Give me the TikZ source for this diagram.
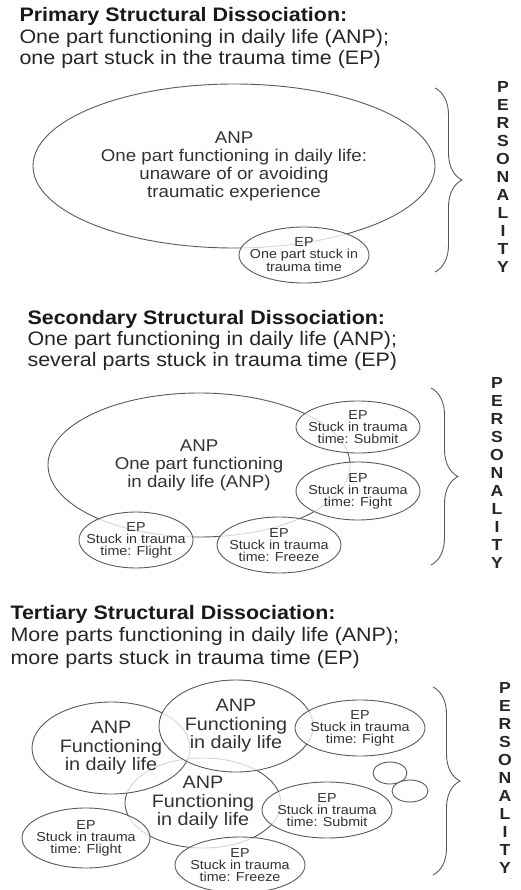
\documentclass[tikz,border=0pt]{standalone}
\usepackage{fontspec}
\setmainfont{Liberation Sans}[FakeStretch=1.1]
\usetikzlibrary{positioning,
        shapes.geometric,
        decorations.pathreplacing}
\definecolor{linegray}{HTML}{5A5A5A}
\definecolor{textgray}{HTML}{333333}

\begin{document}
\begin{tikzpicture}[x=1pt,y=-1pt,
    part/.style={ellipse,draw=linegray,line width=0.9pt,fill=white,fill opacity=0.75,
        text opacity=1,text=textgray,inner sep=-40pt,align=center},
    big/.style={font=\fontsize{17}{18}\selectfont},
    mid/.style={font=\fontsize{18}{18.5}\selectfont},
    small/.style={font=\fontsize{13}{12}\selectfont},
    head/.style={anchor=base west,text=black!85,font=\fontsize{19.5}{21.7}\selectfont},
    headb/.style={anchor=base west,text=black!90,font=\fontsize{19.5}{21.7}\selectfont\bfseries},
    persbrace/.style={draw=linegray,line width=0.9pt,decorate,decoration={brace,amplitude=27pt}},
    pers/.style={align=center,text=black!85,font=\fontsize{16}{18}\selectfont\bfseries}]
            \useasboundingbox (0,0) rectangle (520,890);

            % primary
            \node [headb] (h1a) at (16,22) {Primary Structural Dissociation:};
            \node [head] (h1b) at (16,44) {One part functioning in daily life (ANP);};
            \node [head] (h1c) at (16,65) {one part stuck in the trauma time (EP)};
            \node [part,big,minimum width=402pt,minimum height=164pt] (anp1) at (234,166) {ANP\\One part functioning in daily life:\\unaware of or avoiding\\traumatic experience};
            \node [part,small,minimum width=130pt,minimum height=56pt] (ep1) at (304,255) {EP\\One part stuck in\\trauma time};
            \coordinate (b1t) at (435,88);
            \coordinate (b1b) at (435,272);
            \draw [persbrace] (b1t) -- (b1b);
            \node [pers] (p1) at (503,177) {P\\E\\R\\S\\O\\N\\A\\L\\I\\T\\Y};

            % secondary
            \node [headb] (h2a) at (24,324) {Secondary Structural Dissociation:};
            \node [head] (h2b) at (24,345) {One part functioning in daily life (ANP);};
            \node [head] (h2c) at (24,366) {several parts stuck in trauma time (EP)};
            \node [part,big,minimum width=302pt,minimum height=144pt] (anp2) at (199,465) {ANP\\One part functioning\\in daily life (ANP)};
            \node [part,small,minimum width=124pt,minimum height=52pt] (ep2a) at (358,427) {EP\\Stuck in trauma\\time: Submit};
            \node [part,small,minimum width=124pt,minimum height=58pt] (ep2b) at (358,491) {EP\\Stuck in trauma\\time: Fight};
            \node [part,small,minimum width=114pt,minimum height=56pt] (ep2c) at (136,540) {EP\\Stuck in trauma\\time: Flight};
            \node [part,small,minimum width=124pt,minimum height=56pt] (ep2d) at (279,545) {EP\\Stuck in trauma\\time: Freeze};
            \coordinate (b2t) at (431,388);
            \coordinate (b2b) at (431,565);
            \draw [persbrace] (b2t) -- (b2b);
            \node [pers] (p2) at (497,473) {P\\E\\R\\S\\O\\N\\A\\L\\I\\T\\Y};

            % tertiary
            \node [headb] (h3a) at (7,619) {Tertiary Structural Dissociation:};
            \node [head] (h3b) at (7,641) {More parts functioning in daily life (ANP);};
            \node [head] (h3c) at (7,664) {more parts stuck in trauma time (EP)};
            \node [part,mid,minimum width=156pt,minimum height=90pt] (anp3c) at (203,803) {ANP\\Functioning\\in daily life};
            \node [part,mid,minimum width=158pt,minimum height=92pt] (anp3a) at (111,748) {ANP\\Functioning\\in daily life};
            \node [part,mid,minimum width=154pt,minimum height=92pt] (anp3b) at (236,726) {ANP\\Functioning\\in daily life};
            \node [part,small,minimum width=130pt,minimum height=56pt] (ep3a) at (360,728) {EP\\Stuck in trauma\\time: Fight};
            \node [part,small,minimum width=130pt,minimum height=56pt] (ep3b) at (327,810) {EP\\Stuck in trauma\\time: Submit};
            \node [part,small,minimum width=128pt,minimum height=60pt] (ep3c) at (86,838) {EP\\Stuck in trauma\\time: Flight};
            \node [part,small,minimum width=130pt,minimum height=56pt] (ep3d) at (240,865) {EP\\Stuck in trauma\\time: Freeze};
            \node [part,minimum width=34pt,minimum height=22pt] (c1) at (390,773) {};
            \node [part,minimum width=36pt,minimum height=22pt] (c2) at (410,791) {};
            \coordinate (b3t) at (433,687);
            \coordinate (b3b) at (433,875);
            \draw [persbrace] (b3t) -- (b3b);
            \node [pers] (p3) at (505,778) {P\\E\\R\\S\\O\\N\\A\\L\\I\\T\\Y};
        \end{tikzpicture}
\end{document}
